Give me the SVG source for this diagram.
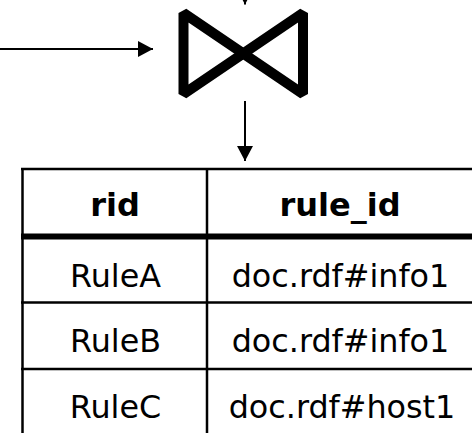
<svg xmlns="http://www.w3.org/2000/svg" width="472" height="433" viewBox="0 0 472 433">
  <style>
    .edge { stroke: #000; stroke-width: 2; fill: none; }
    .grid { stroke: #000; stroke-width: 2.5; fill: none; }
    .cell { font-family: "DejaVu Sans", Verdana, sans-serif; font-size: 31.8px; fill: #000; text-anchor: middle; }
    .head { font-weight: bold; font-size: 32px; }
  </style>
  <defs>
    <marker id="arrow" viewBox="0 0 15 16" refX="15" refY="8" markerWidth="15" markerHeight="16" markerUnits="userSpaceOnUse" orient="auto">
      <path d="M0,0 L15,8 L0,16 Z" fill="#000"/>
    </marker>
  </defs>
  <rect width="472" height="433" fill="#fff"/>

  <!-- connectors -->
  <g id="connectors">
    <line class="edge" x1="245" y1="-20" x2="245" y2="4.5" marker-end="url(#arrow)"/>
    <line class="edge" x1="0" y1="49" x2="153" y2="49" marker-end="url(#arrow)"/>
    <line class="edge" x1="245" y1="101" x2="245" y2="161" marker-end="url(#arrow)"/>
  </g>

  <!-- join operator (bowtie) -->
  <g id="join">
    <path d="M183.5,13 L303,94 L303,13 L183.5,94 Z" fill="none" stroke="#000" stroke-width="10" stroke-linejoin="bevel"/>
  </g>

  <!-- result table -->
  <g id="table">
    <line class="grid" x1="21" y1="169" x2="472" y2="169"/>
    <line class="grid" x1="22.5" y1="168" x2="22.5" y2="433"/>
    <line class="grid" x1="207" y1="168" x2="207" y2="433"/>
    <line x1="21" y1="236.5" x2="472" y2="236.5" stroke="#000" stroke-width="6"/>
    <line class="grid" x1="21" y1="302.5" x2="472" y2="302.5"/>
    <line class="grid" x1="21" y1="369" x2="472" y2="369"/>

    <text class="cell head" x="115" y="216">rid</text>
    <text class="cell head" x="340" y="216">rule_id</text>

    <text class="cell" x="115.5" y="287">RuleA</text>
    <text class="cell" x="340.5" y="287">doc.rdf#info1</text>

    <text class="cell" x="115.5" y="352">RuleB</text>
    <text class="cell" x="340.5" y="352">doc.rdf#info1</text>

    <text class="cell" x="115.5" y="418">RuleC</text>
    <text class="cell" x="342" y="418">doc.rdf#host1</text>
  </g>
</svg>
